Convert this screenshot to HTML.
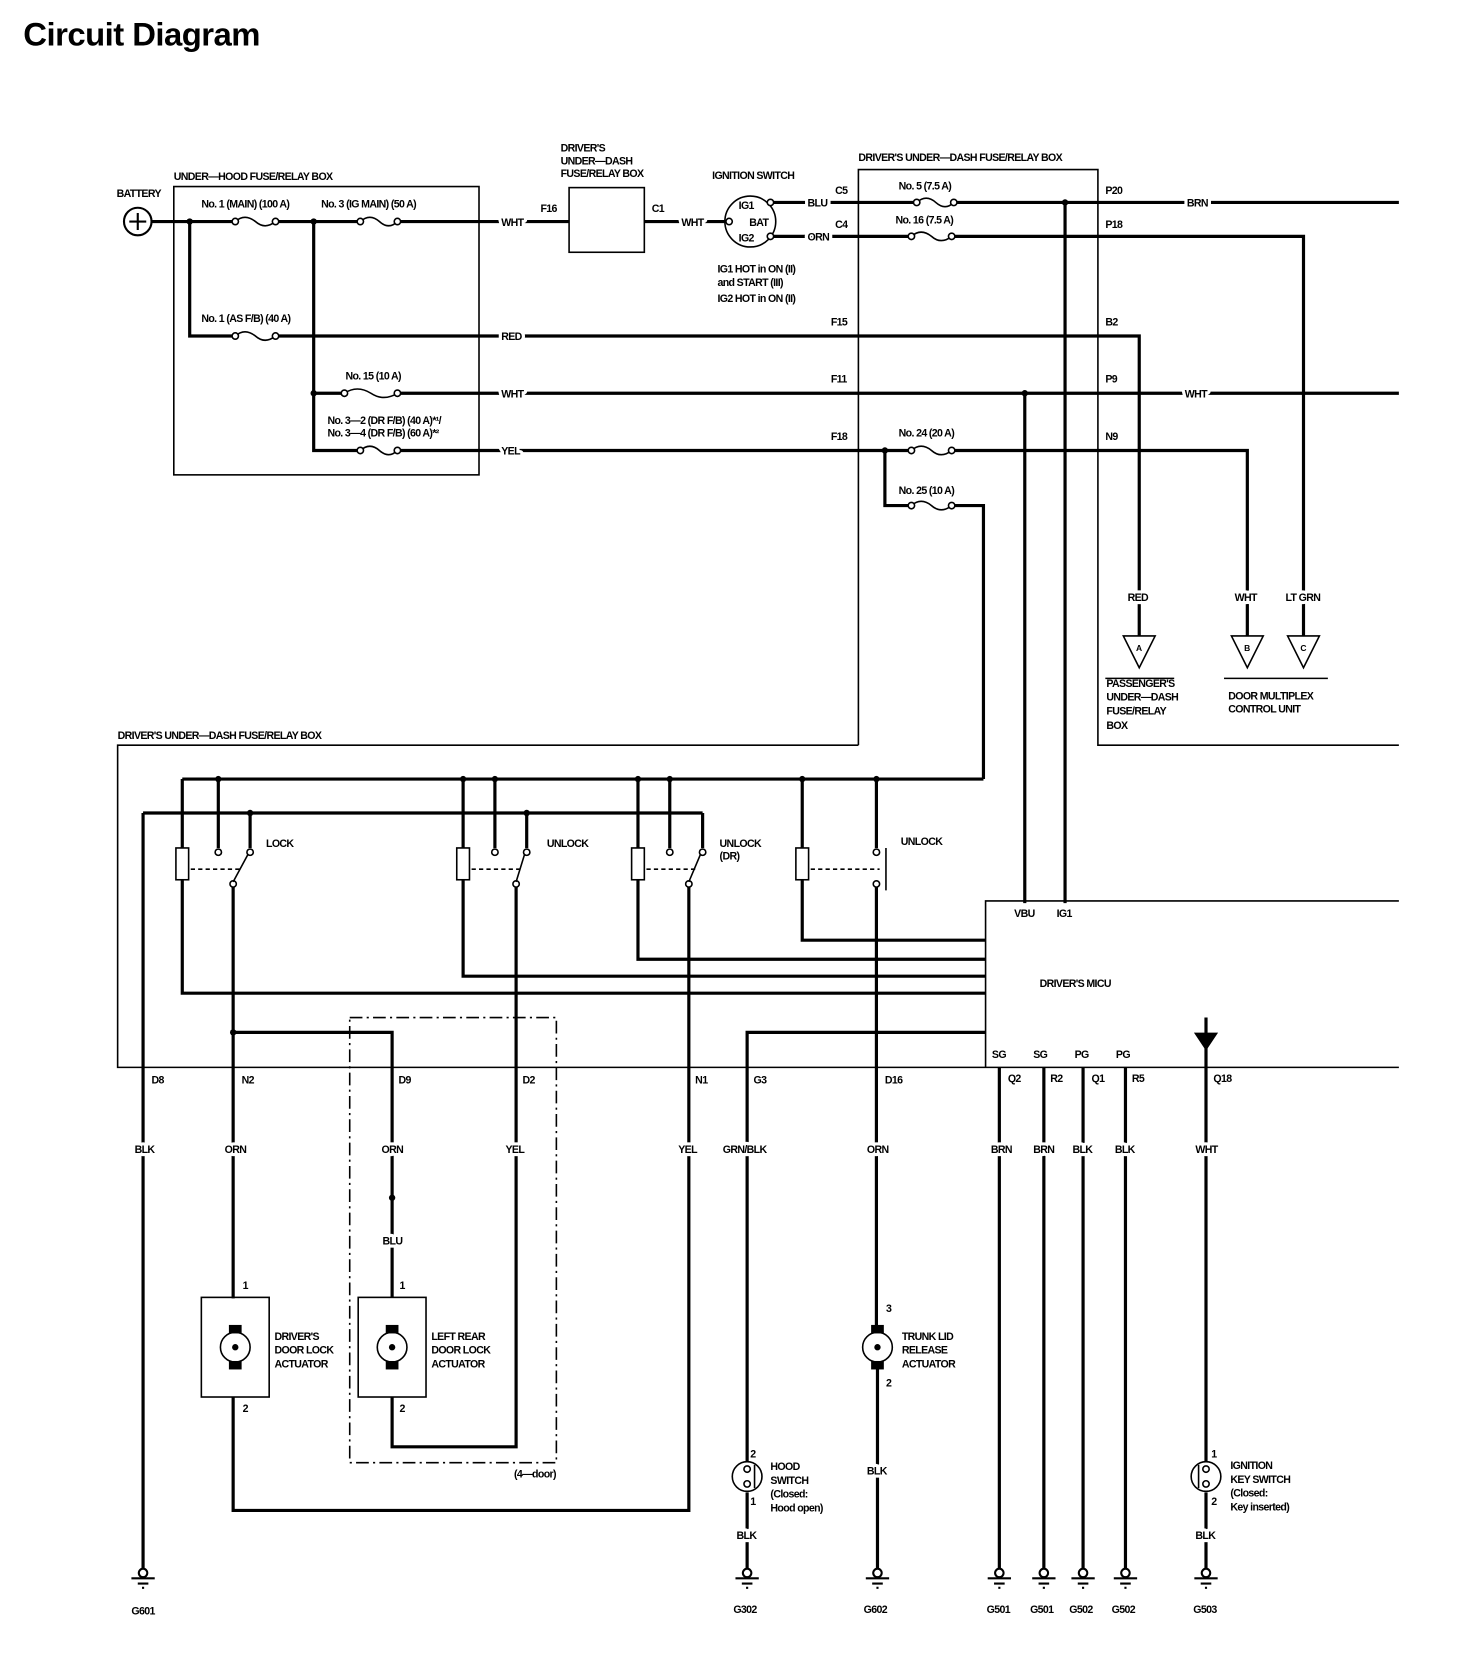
<!DOCTYPE html>
<html><head><style>
html,body{margin:0;padding:0;background:#fff}
svg{display:block}
text{font-family:"Liberation Sans",sans-serif;font-weight:bold;font-size:10px;letter-spacing:-0.6px;fill:#000}
.w{stroke:#fff;stroke-width:6px;paint-order:stroke;stroke-linejoin:round}
.t{font-size:31px;letter-spacing:-0.5px}
</style></head><body>
<svg width="1472" height="1662" viewBox="0 0 1389 1568" preserveAspectRatio="none" xmlns="http://www.w3.org/2000/svg">
<text class="t" x="22" y="43">Circuit Diagram</text>
<g fill="none" stroke="#000" stroke-width="1.5">
<rect x="164" y="176" width="288" height="272"/>
<rect x="537" y="177" width="71" height="61"/>
<circle cx="708" cy="209" r="24"/>
<path d="M810 703 V160 H1036 V703 H1320"/>
<path d="M810 703 H111 V1007 H1320"/>
<path d="M930 1007 V850 H1320"/>
<rect x="330" y="960" width="195" height="420" stroke-dasharray="12,4,2,4"/>
<rect x="190" y="1224" width="64" height="94"/>
<rect x="338" y="1224" width="64" height="94"/>
<path d="M1155 640 H1253 M1043 640 H1108"/>
</g>
<circle cx="130" cy="209" r="13" fill="none" stroke="#000" stroke-width="2"/>
<path d="M122 209 H138 M130 201 V217" stroke="#000" stroke-width="2"/>
<g fill="none" stroke="#000" stroke-width="3">
<path d="M143 209 H222 M260 209 H340 M375 209 H537 M608 209 H684"/>
<path d="M179 209 V317 H222 M260 317 H1075 V600"/>
<path d="M296 209 V425 H340 M375 425 H860 M898 425 H1177 V600"/>
<path d="M296 371 H325 M375 371 H1320"/>
<path d="M730 191 H865 M900 191 H1320"/>
<path d="M730 223 H860 M898 223 H1230 V600"/>
<path d="M835 425 V477 H860 M898 477 H928 V735"/>
<path d="M967 371 V852 M1005 191 V852"/>
<path d="M172 735 H928 M135 767 H663"/>
<path d="M172 735 V937 H930"/>
<path d="M437 735 V921 H930"/>
<path d="M602 735 V905 H930"/>
<path d="M757 735 V887 H930"/>
<path d="M206 735 V800 M236 767 V800 M220 835 V1225"/>
<path d="M467 735 V800 M497 767 V800 M487 835 V1365 H370 V1318"/>
<path d="M632 735 V800 M663 767 V800 M650 835 V1425 H220 V1318"/>
<path d="M827 735 V800 M827 835 V1255"/>
<path d="M135 767 V1480"/>
<path d="M220 974 H370 V1224"/>
<path d="M705 1380 V974 H930"/>
<path d="M705 1408 V1480 M828 1288 V1480"/>
<path d="M943 1007 V1480 M985 1007 V1480 M1022 1007 V1480 M1062 1007 V1480"/>
<path d="M1138 960 V1380 M1138 1408 V1480"/>
</g>
<g fill="none" stroke="#000" stroke-width="1.5">
<path d="M222 209 q9 -8 19 0 q9 8 19 0"/><circle cx="222" cy="209" r="3" fill="#fff"/><circle cx="260" cy="209" r="3" fill="#fff"/>
<path d="M340 209 q9 -8 18 0 q9 8 17 0"/><circle cx="340" cy="209" r="3" fill="#fff"/><circle cx="375" cy="209" r="3" fill="#fff"/>
<path d="M222 317 q9 -8 19 0 q9 8 19 0"/><circle cx="222" cy="317" r="3" fill="#fff"/><circle cx="260" cy="317" r="3" fill="#fff"/>
<path d="M325 371 q12 -8 25 0 q12 8 25 0"/><circle cx="325" cy="371" r="3" fill="#fff"/><circle cx="375" cy="371" r="3" fill="#fff"/>
<path d="M340 425 q9 -8 18 0 q9 8 17 0"/><circle cx="340" cy="425" r="3" fill="#fff"/><circle cx="375" cy="425" r="3" fill="#fff"/>
<path d="M865 191 q9 -8 18 0 q9 8 17 0"/><circle cx="865" cy="191" r="3" fill="#fff"/><circle cx="900" cy="191" r="3" fill="#fff"/>
<path d="M860 223 q9 -8 19 0 q9 8 19 0"/><circle cx="860" cy="223" r="3" fill="#fff"/><circle cx="898" cy="223" r="3" fill="#fff"/>
<path d="M860 425 q9 -8 19 0 q9 8 19 0"/><circle cx="860" cy="425" r="3" fill="#fff"/><circle cx="898" cy="425" r="3" fill="#fff"/>
<path d="M860 477 q9 -8 19 0 q9 8 19 0"/><circle cx="860" cy="477" r="3" fill="#fff"/><circle cx="898" cy="477" r="3" fill="#fff"/>
<circle cx="727" cy="191" r="3" fill="#fff"/><circle cx="727" cy="223" r="3" fill="#fff"/><circle cx="688" cy="209" r="3" fill="#fff"/>
</g>
<g fill="#000">
<circle cx="179" cy="209" r="3"/><circle cx="296" cy="209" r="3"/><circle cx="296" cy="371" r="3"/>
<circle cx="835" cy="425" r="3"/><circle cx="967" cy="371" r="3"/><circle cx="1005" cy="191" r="3"/>
<circle cx="206" cy="735" r="3"/><circle cx="437" cy="735" r="3"/><circle cx="467" cy="735" r="3"/><circle cx="602" cy="735" r="3"/><circle cx="632" cy="735" r="3"/><circle cx="757" cy="735" r="3"/><circle cx="827" cy="735" r="3"/>
<circle cx="236" cy="767" r="3"/><circle cx="497" cy="767" r="3"/><circle cx="220" cy="974" r="3"/><circle cx="370" cy="1130" r="3"/>
</g>
<g fill="#fff" stroke="#000" stroke-width="1.5">
<rect x="166" y="800" width="12" height="30"/><rect x="431" y="800" width="12" height="30"/><rect x="596" y="800" width="12" height="30"/><rect x="751" y="800" width="12" height="30"/>
<circle cx="206" cy="804" r="3"/><circle cx="236" cy="804" r="3"/><circle cx="220" cy="834" r="3"/>
<circle cx="467" cy="804" r="3"/><circle cx="497" cy="804" r="3"/><circle cx="487" cy="834" r="3"/>
<circle cx="632" cy="804" r="3"/><circle cx="663" cy="804" r="3"/><circle cx="650" cy="834" r="3"/>
<circle cx="827" cy="804" r="3"/><circle cx="827" cy="834" r="3"/>
<path d="M220 832 L234 806 M487 832 L495 806 M650 832 L661 806 M836 800 V840" fill="none"/>
<path d="M180 820 H226 M445 820 H492 M610 820 H656 M765 820 H830" fill="none" stroke-dasharray="4,3"/>
<circle cx="222" cy="1271" r="14"/><circle cx="370" cy="1271" r="14"/><circle cx="828" cy="1271" r="14"/>
<circle cx="705" cy="1393" r="14"/><circle cx="1138" cy="1393" r="14"/>
<path d="M1075 600 L1090 600 L1075 630 L1060 600 Z M1177 600 L1192 600 L1177 630 L1162 600 Z M1230 600 L1245 600 L1230 630 L1215 600 Z"/>
<path d="M1128 975 H1148 L1138 990 Z" fill="#000"/>
</g>
<g fill="#fff" stroke="#000" stroke-width="1.5">
<circle cx="705" cy="1386" r="3"/><circle cx="705" cy="1400" r="3"/><path d="M712 1382 V1404" fill="none"/>
<circle cx="1138" cy="1386" r="3"/><circle cx="1138" cy="1400" r="3"/><path d="M1131 1382 V1404" fill="none"/>
</g>
<g fill="#000"><circle cx="222" cy="1271" r="3"/><circle cx="370" cy="1271" r="3"/><circle cx="828" cy="1271" r="3"/>
<rect x="216" y="1250" width="12" height="8"/><rect x="216" y="1284" width="12" height="8"/><rect x="364" y="1250" width="12" height="8"/><rect x="364" y="1284" width="12" height="8"/><rect x="822" y="1250" width="12" height="8"/><rect x="822" y="1284" width="12" height="8"/></g>
<g stroke="#000" stroke-width="2" fill="#fff">
<g id="gnd"><circle cx="135" cy="1484" r="4"/><path d="M124 1489 H146 M130 1494 H140 M134 1498 H136"/></g>
<use href="#gnd" x="570"/><use href="#gnd" x="693"/><use href="#gnd" x="808"/><use href="#gnd" x="850"/><use href="#gnd" x="887"/><use href="#gnd" x="927"/><use href="#gnd" x="1003"/>
</g>
<text x="164" y="170">UNDER—HOOD FUSE/RELAY BOX</text>
<text x="110" y="186">BATTERY</text>
<text x="190" y="196">No. 1 (MAIN) (100 A)</text>
<text x="303" y="196">No. 3 (IG MAIN) (50 A)</text>
<text x="190" y="304">No. 1 (AS F/B) (40 A)</text>
<text x="326" y="358">No. 15 (10 A)</text>
<text x="309" y="400">No. 3—2 (DR F/B) (40 A)*¹/</text>
<text x="309" y="412">No. 3—4 (DR F/B) (60 A)*²</text>
<text class="w" x="473" y="213">WHT</text><text class="w" x="473" y="321">RED</text><text class="w" x="473" y="375">WHT</text><text class="w" x="473" y="429">YEL</text>
<text x="529" y="143">DRIVER'S</text><text x="529" y="155">UNDER—DASH</text><text x="529" y="167">FUSE/RELAY BOX</text>
<text x="510" y="200">F16</text><text x="615" y="200">C1</text><text class="w" x="643" y="213">WHT</text>
<text x="672" y="169">IGNITION SWITCH</text>
<text x="697" y="197">IG1</text><text x="707" y="213">BAT</text><text x="697" y="228">IG2</text>
<text class="w" x="762" y="195">BLU</text><text class="w" x="762" y="227">ORN</text>
<text x="677" y="257">IG1 HOT in ON (II)</text><text x="677" y="270">and START (III)</text><text x="677" y="285">IG2 HOT in ON (II)</text>
<text x="810" y="152">DRIVER'S UNDER—DASH FUSE/RELAY BOX</text>
<text x="788" y="183">C5</text><text x="788" y="215">C4</text><text x="784" y="307">F15</text><text x="784" y="361">F11</text><text x="784" y="415">F18</text>
<text x="848" y="179">No. 5 (7.5 A)</text><text x="845" y="211">No. 16 (7.5 A)</text>
<text x="848" y="412">No. 24 (20 A)</text><text x="848" y="466">No. 25 (10 A)</text>
<text x="1043" y="183">P20</text><text x="1043" y="215">P18</text><text x="1043" y="307">B2</text><text x="1043" y="361">P9</text><text x="1043" y="415">N9</text>
<text class="w" x="1120" y="195">BRN</text><text class="w" x="1118" y="375">WHT</text>
<text class="w" x="1064" y="567">RED</text><text class="w" x="1165" y="567">WHT</text><text class="w" x="1213" y="567">LT GRN</text>
<text x="1072" y="614" style="font-size:8px">A</text><text x="1174" y="614" style="font-size:8px">B</text><text x="1227" y="614" style="font-size:8px">C</text>
<text x="1044" y="648">PASSENGER'S</text><text x="1044" y="661">UNDER—DASH</text><text x="1044" y="674">FUSE/RELAY</text><text x="1044" y="688">BOX</text>
<text x="1159" y="660">DOOR MULTIPLEX</text><text x="1159" y="672">CONTROL UNIT</text>
<text x="111" y="697">DRIVER'S UNDER—DASH FUSE/RELAY BOX</text>
<text x="251" y="799">LOCK</text><text x="516" y="799">UNLOCK</text><text x="679" y="799">UNLOCK</text><text x="679" y="811">(DR)</text><text x="850" y="797">UNLOCK</text>
<text x="957" y="865">VBU</text><text x="997" y="865">IG1</text>
<text x="981" y="931">DRIVER'S MICU</text>
<text x="936" y="998">SG</text><text x="975" y="998">SG</text><text x="1014" y="998">PG</text><text x="1053" y="998">PG</text>
<text x="143" y="1022">D8</text><text x="228" y="1022">N2</text><text x="376" y="1022">D9</text><text x="493" y="1022">D2</text><text x="656" y="1022">N1</text><text x="711" y="1022">G3</text><text x="835" y="1022">D16</text>
<text x="951" y="1021">Q2</text><text x="991" y="1021">R2</text><text x="1030" y="1021">Q1</text><text x="1068" y="1021">R5</text><text x="1145" y="1021">Q18</text>
<text class="w" x="127" y="1088">BLK</text><text class="w" x="212" y="1088">ORN</text><text class="w" x="360" y="1088">ORN</text><text class="w" x="477" y="1088">YEL</text><text class="w" x="640" y="1088">YEL</text><text class="w" x="682" y="1088">GRN/BLK</text><text class="w" x="818" y="1088">ORN</text>
<text class="w" x="935" y="1088">BRN</text><text class="w" x="975" y="1088">BRN</text><text class="w" x="1012" y="1088">BLK</text><text class="w" x="1052" y="1088">BLK</text><text class="w" x="1128" y="1088">WHT</text>
<text class="w" x="361" y="1174">BLU</text>
<text x="229" y="1216">1</text><text x="377" y="1216">1</text><text x="229" y="1332">2</text><text x="377" y="1332">2</text>
<text x="836" y="1238">3</text><text x="836" y="1308">2</text>
<text x="259" y="1264">DRIVER'S</text><text x="259" y="1277">DOOR LOCK</text><text x="259" y="1290">ACTUATOR</text>
<text x="407" y="1264">LEFT REAR</text><text x="407" y="1277">DOOR LOCK</text><text x="407" y="1290">ACTUATOR</text>
<text x="851" y="1264">TRUNK LID</text><text x="851" y="1277">RELEASE</text><text x="851" y="1290">ACTUATOR</text>
<text x="485" y="1394">(4—door)</text>
<text x="708" y="1375">2</text><text x="708" y="1420">1</text>
<text x="727" y="1387">HOOD</text><text x="727" y="1400">SWITCH</text><text x="727" y="1413">(Closed:</text><text x="727" y="1426">Hood open)</text>
<text class="w" x="818" y="1391">BLK</text>
<text x="1143" y="1375">1</text><text x="1143" y="1420">2</text>
<text x="1161" y="1386">IGNITION</text><text x="1161" y="1399">KEY SWITCH</text><text x="1161" y="1412">(Closed:</text><text x="1161" y="1425">Key inserted)</text>
<text class="w" x="695" y="1452">BLK</text><text class="w" x="1128" y="1452">BLK</text>
<text x="124" y="1523">G601</text><text x="692" y="1522">G302</text><text x="815" y="1522">G602</text><text x="931" y="1522">G501</text><text x="972" y="1522">G501</text><text x="1009" y="1522">G502</text><text x="1049" y="1522">G502</text><text x="1126" y="1522">G503</text>
</svg>
</body></html>
